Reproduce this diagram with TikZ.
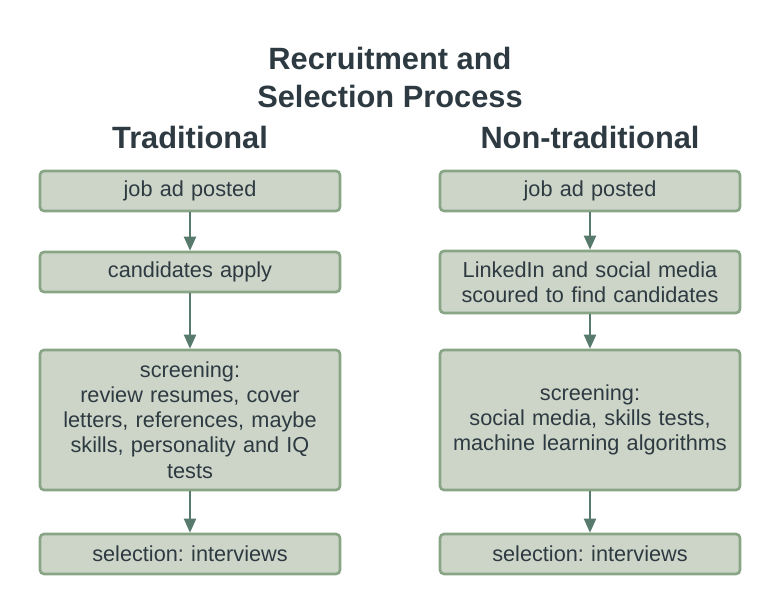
\documentclass[tikz,border=0pt]{standalone}
\usepackage{fontspec}
\setmainfont{Liberation Sans}
\usetikzlibrary{arrows.meta}
\definecolor{boxfill}{HTML}{CDD5C8}
\definecolor{boxline}{HTML}{88A585}
\definecolor{arrowc}{HTML}{587A6C}
\definecolor{txt}{HTML}{2D3A41}
\frenchspacing
\begin{document}
\begin{tikzpicture}[x=1pt,y=-1pt,
  stepbox/.style={draw=boxline, fill=boxfill, line width=2.6pt, rounded corners=4pt,
    minimum width=300pt, text width=298pt, align=center, inner sep=0pt, text=txt,
    font=\fontsize{21.7}{25.2}\selectfont},
  heading/.style={text=txt, font=\fontsize{30.8}{38}\selectfont\bfseries, align=center},
  flow/.style={draw=arrowc, line width=2pt, -{Triangle[width=12pt,length=14pt]}}
]
\useasboundingbox (0,0) rectangle (780,613);
\node[heading] (title) at (390,77) {Recruitment and\\Selection Process};
\node[heading] (lhead) at (190,137) {Traditional};
\node[heading] (rhead) at (590,137) {Non-traditional};

\node[stepbox, minimum height=40pt] (l1) at (190,191) {job ad posted};
\node[stepbox, minimum height=40pt] (l2) at (190,272) {candidates apply};
\node[stepbox, minimum height=140pt] (l3) at (190,420) {screening:\\review resumes, cover\\letters, references, maybe\\skills, personality and IQ\\tests};
\node[stepbox, minimum height=40pt] (l4) at (190,554) {selection: interviews};

\node[stepbox, minimum height=40pt] (r1) at (590,191) {job ad posted};
\node[stepbox, minimum height=62pt] (r2) at (590,282) {LinkedIn and social media\\scoured to find candidates};
\node[stepbox, minimum height=140pt] (r3) at (590,420) {screening:\\social media, skills tests,\\machine learning algorithms};
\node[stepbox, minimum height=40pt] (r4) at (590,554) {selection: interviews};

\draw[flow] (l1) -- (l2);
\draw[flow] (l2) -- (l3);
\draw[flow] (l3) -- (l4);
\draw[flow] (r1) -- (r2);
\draw[flow] (r2) -- (r3);
\draw[flow] (r3) -- (r4);
\end{tikzpicture}
\end{document}
